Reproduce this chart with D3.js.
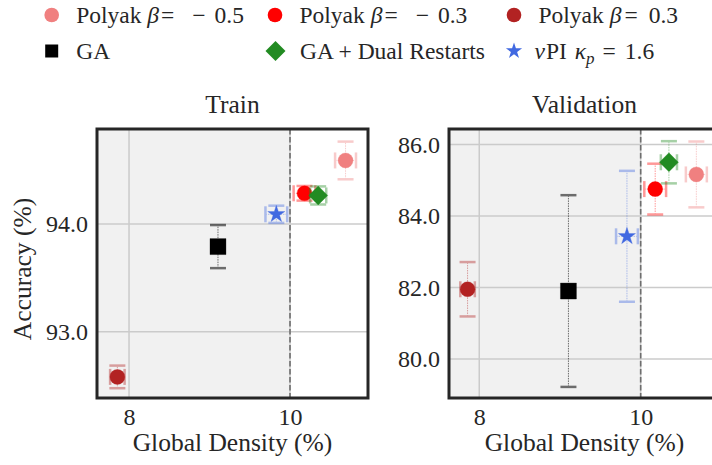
<!DOCTYPE html>
<html><head><meta charset="utf-8">
<script src="https://cdn.jsdelivr.net/npm/d3@7"></script>
<style>
body{margin:0;background:#fff;overflow:hidden;}
svg{display:block;}
text{font-family:"Liberation Serif","Times New Roman",serif;fill:#262626;}
</style>
</head><body><svg id="c" width="712" height="465"></svg>
<script>
// ---- data ----
const methods = ["Polyak b=-0.5","Polyak b=-0.3","Polyak b=0.3","GA","GA + Dual Restarts","nuPI kp=1.6"];
const colors = ["#F08080","#FF0000","#B22222","#000000","#228B22","#4169E1"];
const shapes = ["circle","circle","circle","square","diamond","star"];
const density = [10.69, 10.18, 7.855, 9.105, 10.35, 9.83];
const densityErr = [0.13, 0.135, 0.09, 0.0, 0.10, 0.135];
const trainAcc = [94.59, 94.285, 92.58, 93.79, 94.265, 94.09];
const trainErr = [0.175, 0.068, 0.105, 0.20, 0.084, 0.08];
const valAcc = [85.16, 84.75, 81.95, 81.90, 85.50, 83.43];
const valErr = [0.92, 0.71, 0.76, 2.68, 0.59, 1.83];
const xTicks = [8, 10];
const trainTicks = [93.0, 94.0];
const valTicks = [80.0, 82.0, 84.0, 86.0];
const targetDensity = 10;
const drawOrder = [0, 1, 2, 3, 4, 5];

const svg = d3.select("#c");
const ink = "#262626";
const FONT = "Liberation Serif";

const diamond = {draw(ctx, size){const r=Math.sqrt(size/2);ctx.moveTo(0,-r);ctx.lineTo(r,0);ctx.lineTo(0,r);ctx.lineTo(-r,0);ctx.closePath();}};
const symType = {circle:d3.symbolCircle, square:d3.symbolSquare, diamond:diamond, star:d3.symbolStar};
const symSize = {circle:177, square:256, diamond:180, star:92};

function panel(opts){
  const {left, right, top, bottom, xDom, yDom, yTicks, acc, err, title} = opts;
  const x = d3.scaleLinear().domain(xDom).range([left, right]);
  const y = d3.scaleLinear().domain(yDom).range([bottom, top]);
  const g = svg.append("g");
  g.append("rect").attr("x", left).attr("y", top)
    .attr("width", x(targetDensity)-left).attr("height", bottom-top).attr("fill", "#f1f1f1");
  g.selectAll(".gx").data(xTicks).join("line")
    .attr("x1", d=>x(d)).attr("x2", d=>x(d)).attr("y1", top).attr("y2", bottom)
    .attr("stroke", "#cbcbcb").attr("stroke-width", 1.5);
  g.selectAll(".gy").data(yTicks).join("line")
    .attr("x1", left).attr("x2", right).attr("y1", d=>y(d)).attr("y2", d=>y(d))
    .attr("stroke", "#cbcbcb").attr("stroke-width", 1.5);
  g.append("line").attr("x1", x(targetDensity)).attr("x2", x(targetDensity))
    .attr("y1", top).attr("y2", bottom).attr("stroke", "#6e6e6e")
    .attr("stroke-width", 1.6).attr("stroke-dasharray", "5.5,2.5");
  const xAxis = d3.axisBottom(x).tickValues(xTicks).tickFormat(d3.format("d")).tickSize(0).tickPadding(10);
  const ax = g.append("g").attr("transform", `translate(0,${bottom})`).call(xAxis);
  ax.attr("font-family", FONT).attr("font-size", 24);
  ax.select(".domain").remove();
  ax.selectAll("text").style("font-family", FONT).attr("font-size", 24).attr("fill", ink);
  const yAxis = d3.axisLeft(y).tickValues(yTicks).tickFormat(d3.format(".1f")).tickSize(0).tickPadding(9);
  const ay = g.append("g").attr("transform", `translate(${left},0)`).call(yAxis);
  ay.attr("font-family", FONT).attr("font-size", 24);
  ay.select(".domain").remove();
  ay.selectAll("text").style("font-family", FONT).attr("font-size", 24).attr("fill", ink);
  drawOrder.forEach(i => {
    const c = colors[i];
    const cx = x(density[i]), cy = y(acc[i]);
    const eg = g.append("g").attr("opacity", i===3 ? 0.55 : 0.4);
    eg.append("line").attr("x1", cx).attr("x2", cx).attr("y1", y(acc[i]-err[i])).attr("y2", y(acc[i]+err[i]))
      .attr("stroke", c).attr("stroke-width", 1).attr("stroke-dasharray", "1.5,1");
    [acc[i]-err[i], acc[i]+err[i]].forEach(v => {
      eg.append("line").attr("x1", cx-8).attr("x2", cx+8).attr("y1", y(v)).attr("y2", y(v))
        .attr("stroke", c).attr("stroke-width", 2.5);
    });
    if (densityErr[i] > 0) {
      eg.append("line").attr("x1", x(density[i]-densityErr[i])).attr("x2", x(density[i]+densityErr[i]))
        .attr("y1", cy).attr("y2", cy).attr("stroke", c).attr("stroke-width", 1).attr("stroke-dasharray", "1.5,1");
      [density[i]-densityErr[i], density[i]+densityErr[i]].forEach(v => {
        eg.append("line").attr("x1", x(v)).attr("x2", x(v)).attr("y1", cy-8).attr("y2", cy+8)
          .attr("stroke", c).attr("stroke-width", 2.5);
      });
    }
    g.append("path").attr("d", d3.symbol(symType[shapes[i]], symSize[shapes[i]])())
      .attr("transform", `translate(${cx},${cy})`).attr("fill", c)
      .attr("stroke", c).attr("stroke-opacity", 0.3).attr("stroke-width", 1);
  });
  g.append("rect").attr("x", left).attr("y", top).attr("width", right-left).attr("height", bottom-top)
    .attr("fill", "none").attr("stroke", ink).attr("stroke-width", 3);
  g.append("text").attr("x", (left+right)/2).attr("y", 113).attr("text-anchor", "middle")
    .attr("font-size", 25.5).text(title);
  g.append("text").attr("x", (left+right)/2).attr("y", 451).attr("text-anchor", "middle")
    .attr("font-size", 25.5).text("Global Density (%)");
}

panel({left:97, right:368, top:129, bottom:398, xDom:[7.602, 10.969], yDom:[92.384, 94.882],
  yTicks:trainTicks, acc:trainAcc, err:trainErr, title:"Train"});
panel({left:449, right:720, top:129, bottom:398, xDom:[7.625, 10.983], yDom:[78.91, 86.43],
  yTicks:valTicks, acc:valAcc, err:valErr, title:"Validation"});

svg.append("text").attr("transform", "translate(31,269) rotate(-90)").attr("text-anchor", "middle")
  .attr("font-size", 25.5).text("Accuracy (%)");

// ---- legend ----
const legendPos = [[51.7,15],[275,15],[514,15],[51.7,51],[275.5,51],[514,51]];
const legendSyms = {circle:[d3.symbolCircle,168], square:[d3.symbolSquare,169], diamond:[diamond,200], star:[d3.symbolStar,82]};
// [text, style, gap before]
const legendParts = [
  [["Polyak ","",0],["β","i",0],["=","",2],["−","",18],["0.5","",9]],
  [["Polyak ","",0],["β","i",0],["=","",2],["−","",18],["0.3","",9]],
  [["Polyak ","",0],["β","i",0],["=","",3],["0.3","",11]],
  [["GA","",0]],
  [["GA + Dual Restarts","",0]],
  [["ν","i",-4],["PI ","",1],["κ","i",2],["p","sub",0],["=","",8],["1.6","",9]]
];
legendPos.forEach((p, i) => {
  const [t, s] = legendSyms[shapes[i]];
  svg.append("path").attr("d", d3.symbol(t, s)()).attr("transform", `translate(${p[0]},${p[1]})`)
    .attr("fill", colors[i]);
  const tx = svg.append("text").attr("x", p[0]+24.5).attr("y", p[1]+7.5).attr("font-size", 23.5);
  let prevSub = false;
  legendParts[i].forEach(([str, st, gap]) => {
    const ts = tx.append("tspan").text(str);
    if (gap) ts.attr("dx", gap);
    if (st === "i") ts.attr("font-style", "italic");
    if (st === "sub") { ts.attr("font-style", "italic").attr("font-size", 17).attr("dy", 5); prevSub = true; }
    else if (prevSub) { ts.attr("dy", -5); prevSub = false; }
  });
});
</script></body></html>
